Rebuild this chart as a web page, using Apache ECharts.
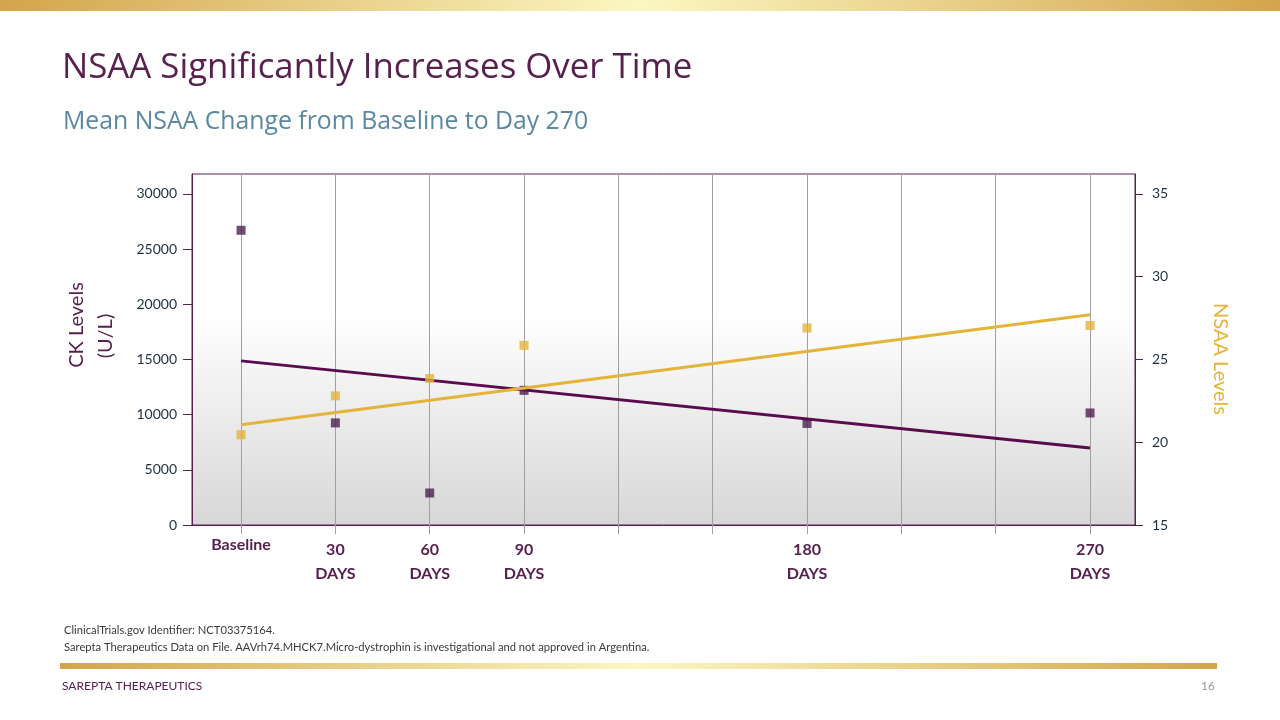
<!DOCTYPE html>
<html>
<head>
<meta charset="utf-8">
<script src="https://cdn.jsdelivr.net/npm/echarts@6/dist/echarts.min.js"></script>
<style>
  html, body { margin: 0; padding: 0; background: #ffffff; }
  #chart { width: 1280px; height: 720px; }
</style>
</head>
<body>
<div id="chart"></div>
<script>
// ---- Data ----
const days = [0, 30, 60, 90, 180, 270];
const ckLevels = [26700, 9250, 2900, 12200, 9200, 10150];
const nsaaLevels = [20.45, 22.8, 23.85, 25.85, 26.9, 27.05];
const trendDays = [0, 270];
const ckTrend = [14870, 6980];
const nsaaTrend = [21.05, 27.7];
const gridDays = [0, 30, 60, 90, 120, 150, 180, 210, 240, 270];
const labelDays = [0, 30, 60, 90, 180, 270];
const ckTicks = [0, 5000, 10000, 15000, 20000, 25000, 30000];
const nsaaTicks = [15, 20, 25, 30, 35];

const titleText = 'NSAA Significantly Increases Over Time';
const subtitleText = 'Mean NSAA Change from Baseline to Day 270';
const footnote1 = 'ClinicalTrials.gov Identifier: NCT03375164.';
const footnote2 = 'Sarepta Therapeutics Data on File. AAVrh74.MHCK7.Micro-dystrophin is investigational and not approved in Argentina.';

const PURPLE = '#57204f';
const LINE_PURPLE = '#5a0a4e';
const GOLD = '#e4b33a';
const FONT = 'Lato, "Open Sans", sans-serif';
const HEAD_FONT = '"Open Sans", Lato, sans-serif';

const pair = (xs, ys) => xs.map((x, i) => [x, ys[i]]);

const goldGradient = () => new echarts.graphic.LinearGradient(0, 0, 1, 0, [
  { offset: 0, color: '#d3a54a' },
  { offset: 0.5, color: '#fbf7c2' },
  { offset: 1, color: '#d3a54a' }
]);

const chart = echarts.init(document.getElementById('chart'), null, { renderer: 'canvas' });

const option = {
  animation: false,
  backgroundColor: '#ffffff',
  textStyle: { fontFamily: FONT },
  grid: {
    left: 192, top: 174, right: 145, bottom: 195,
    show: true,
    borderColor: PURPLE,
    borderWidth: 1,
    backgroundColor: new echarts.graphic.LinearGradient(0, 0, 0, 1, [
      { offset: 0, color: '#ffffff' },
      { offset: 0.4, color: '#ffffff' },
      { offset: 1, color: '#d7d7d7' }
    ])
  },
  xAxis: {
    type: 'value',
    min: -15.6, max: 284.3,
    axisLine: { show: true, onZero: false, lineStyle: { color: PURPLE, width: 1 } },
    axisTick: { show: true, length: 9, customValues: gridDays, lineStyle: { color: '#a0a0a0', width: 1 } },
    splitLine: { show: true, lineStyle: { color: '#a0a0a0', width: 1 } },
    axisLabel: {
      customValues: labelDays,
      margin: 13,
      formatter: function (v) {
        return v === 0 ? '{b|Baseline}' : '{n|' + v + '}\n{n|DAYS}';
      },
      rich: {
        b: { fontFamily: FONT, fontSize: 16, fontWeight: 'bold', color: PURPLE, lineHeight: 14 },
        n: { fontFamily: FONT, fontSize: 16, fontWeight: 'bold', color: PURPLE, lineHeight: 24 }
      }
    }
  },
  yAxis: [
    {
      type: 'value',
      position: 'left',
      min: 0, max: 31800, interval: 5000,
      axisLine: { show: true, onZero: false, lineStyle: { color: PURPLE } },
      axisTick: { show: true, length: 9, customValues: ckTicks, lineStyle: { color: PURPLE } },
      splitLine: { show: false },
      axisLabel: {
        customValues: ckTicks, margin: 15, fontSize: 14, color: '#1f2f3d', fontFamily: FONT,
        formatter: function (v) { return String(Math.round(v)); }
      }
    },
    {
      type: 'value',
      position: 'right',
      min: 15, max: 36.2, interval: 5,
      axisLine: { show: true, onZero: false, lineStyle: { color: PURPLE } },
      axisTick: { show: true, length: 8, customValues: nsaaTicks, lineStyle: { color: PURPLE } },
      splitLine: { show: false },
      axisLabel: {
        customValues: nsaaTicks, margin: 17, fontSize: 14, color: '#1f2f3d', fontFamily: FONT,
        formatter: function (v) { return String(Math.round(v)); }
      }
    }
  ],
  series: [
    {
      name: 'CK Levels',
      type: 'scatter',
      yAxisIndex: 0,
      symbol: 'rect',
      symbolSize: 9,
      itemStyle: { color: '#4e2150' },
      data: pair(days, ckLevels),
      z: 2
    },
    {
      name: 'CK Trend',
      type: 'line',
      yAxisIndex: 0,
      symbol: 'none',
      lineStyle: { color: LINE_PURPLE, width: 3 },
      data: pair(trendDays, ckTrend),
      z: 3
    },
    {
      name: 'NSAA Trend',
      type: 'line',
      yAxisIndex: 1,
      symbol: 'none',
      lineStyle: { color: GOLD, width: 3 },
      data: pair(trendDays, nsaaTrend),
      z: 4
    },
    {
      name: 'NSAA Levels',
      type: 'scatter',
      yAxisIndex: 1,
      symbol: 'rect',
      symbolSize: 9,
      itemStyle: { color: GOLD },
      data: pair(days, nsaaLevels),
      z: 5
    }
  ],
  graphic: [
    { type: 'rect', shape: { x: 0, y: 0, width: 1280, height: 11 }, style: { fill: goldGradient() }, silent: true },
    { type: 'rect', shape: { x: 60, y: 663, width: 1157, height: 6 }, style: { fill: goldGradient() }, silent: true },
    { type: 'text', x: 62, y: 68, style: { text: titleText, font: '34.8px ' + HEAD_FONT, fill: '#57204f', textAlign: 'left', textVerticalAlign: 'middle' }, silent: true },
    { type: 'text', x: 63, y: 122, style: { text: subtitleText, font: '24.8px ' + HEAD_FONT, fill: '#5a87a2', textAlign: 'left', textVerticalAlign: 'middle' }, silent: true },
    { type: 'text', x: 77, y: 325, rotation: Math.PI / 2, style: { text: 'CK Levels', font: '20px ' + FONT, fill: PURPLE, textAlign: 'center', textVerticalAlign: 'middle' }, silent: true },
    { type: 'text', x: 106, y: 336, rotation: Math.PI / 2, style: { text: '(U/L)', font: '20px ' + FONT, fill: PURPLE, textAlign: 'center', textVerticalAlign: 'middle' }, silent: true },
    { type: 'text', x: 1220, y: 359, rotation: -Math.PI / 2, style: { text: 'NSAA Levels', font: '20px ' + FONT, fill: GOLD, textAlign: 'center', textVerticalAlign: 'middle' }, silent: true },
    { type: 'text', x: 64, y: 630, style: { text: footnote1, font: '11.2px ' + FONT, fill: '#3a3a3a', textAlign: 'left', textVerticalAlign: 'middle' }, silent: true },
    { type: 'text', x: 64, y: 647, style: { text: footnote2, font: '11.2px ' + FONT, fill: '#3a3a3a', textAlign: 'left', textVerticalAlign: 'middle' }, silent: true },
    { type: 'text', x: 62, y: 686, style: { text: 'SAREPTA THERAPEUTICS', font: '12px ' + FONT, fill: '#57204f', textAlign: 'left', textVerticalAlign: 'middle' }, silent: true },
    { type: 'text', x: 1215, y: 686, style: { text: '16', font: '12px ' + FONT, fill: '#9a9a9a', textAlign: 'right', textVerticalAlign: 'middle' }, silent: true }
  ]
};

chart.setOption(option);
</script>
</body>
</html>
